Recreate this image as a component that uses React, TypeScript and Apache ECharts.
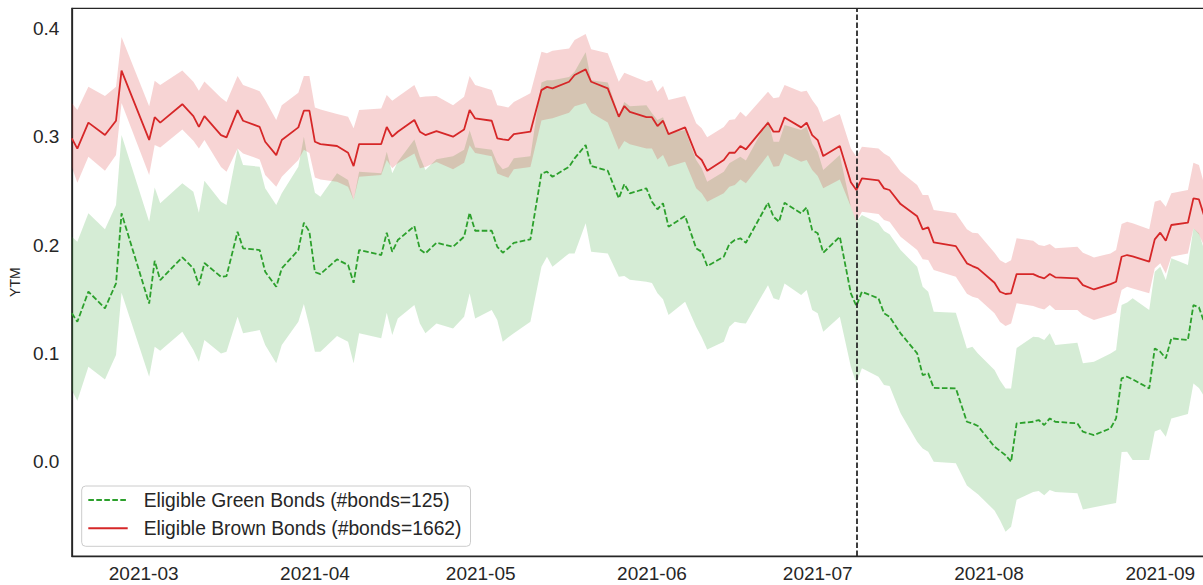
import React, { useEffect, useRef } from 'react';
import * as echarts from 'echarts';

const FONT = '"Liberation Sans", Arial, Helvetica, sans-serif';

// Trading dates (vertices)
const dates = [
  '2021-02-16','2021-02-17','2021-02-19','2021-02-22','2021-02-24','2021-02-25',
  '2021-03-02','2021-03-03','2021-03-04','2021-03-08','2021-03-10','2021-03-11','2021-03-12',
  '2021-03-15','2021-03-16','2021-03-18','2021-03-19','2021-03-22','2021-03-23','2021-03-25','2021-03-26',
  '2021-03-29','2021-03-30','2021-03-31','2021-04-01','2021-04-02','2021-04-05','2021-04-07','2021-04-08','2021-04-09',
  '2021-04-13','2021-04-14','2021-04-15','2021-04-16','2021-04-19','2021-04-20','2021-04-21','2021-04-23','2021-04-26',
  '2021-04-28','2021-04-29','2021-04-30','2021-05-03','2021-05-04','2021-05-05','2021-05-06','2021-05-07','2021-05-10',
  '2021-05-12','2021-05-13','2021-05-14','2021-05-17','2021-05-18','2021-05-20','2021-05-21','2021-05-24','2021-05-26',
  '2021-05-27','2021-05-28','2021-05-31','2021-06-01','2021-06-02','2021-06-03','2021-06-04','2021-06-07','2021-06-09',
  '2021-06-10','2021-06-11','2021-06-14','2021-06-15','2021-06-16','2021-06-17','2021-06-18','2021-06-22','2021-06-23',
  '2021-06-24','2021-06-25','2021-06-28','2021-06-29','2021-06-30','2021-07-01','2021-07-02','2021-07-05','2021-07-07',
  '2021-07-08','2021-07-09','2021-07-12','2021-07-13','2021-07-14','2021-07-16','2021-07-19','2021-07-20','2021-07-21',
  '2021-07-22','2021-07-26','2021-07-28','2021-07-29','2021-07-30','2021-08-02','2021-08-03','2021-08-04','2021-08-05',
  '2021-08-06','2021-08-09','2021-08-10','2021-08-11','2021-08-12','2021-08-13','2021-08-17','2021-08-18','2021-08-20',
  '2021-08-23','2021-08-24','2021-08-25','2021-08-26','2021-08-27','2021-08-30','2021-08-31','2021-09-01','2021-09-02',
  '2021-09-03','2021-09-06','2021-09-07','2021-09-08','2021-09-09',
];

const brownMean = [
  0.2985,0.289,0.313,0.3015,0.3147,0.361,
  0.297,0.318,0.313,0.330,0.319,0.309,0.319,
  0.3015,0.2994,0.3246,0.3147,0.309,0.2953,0.283,0.2969,
  0.3086,0.324,0.324,0.2953,0.2932,0.2914,0.2852,0.2729,0.2932,
  0.2932,0.309,0.300,0.3046,0.3154,0.3046,0.3015,0.3052,0.300,
  0.3067,0.3246,0.3169,0.3147,0.2985,0.2975,0.2969,0.3024,0.3046,
  0.343,0.346,0.3446,0.3507,0.3569,0.3621,0.3507,0.3446,0.3184,
  0.3283,0.323,0.318,0.318,0.3098,0.3147,0.3024,0.3086,0.283,
  0.2785,0.2686,0.2785,0.2852,0.2852,0.2914,0.2883,0.3129,0.3046,
  0.3046,0.3178,0.3086,0.3129,0.3015,0.2969,0.2821,0.2914,0.258,
  0.2508,0.2615,0.2597,0.2523,0.2508,0.2378,0.2265,0.2145,0.2163,
  0.2025,0.199,0.1831,0.1806,0.1785,0.1652,0.1569,0.1548,0.1554,
  0.1732,0.1732,0.1708,0.1692,0.1732,0.1702,0.1692,0.163,0.159,
  0.164,0.1661,0.1892,0.1908,0.1895,0.1846,0.2052,0.2114,0.204,
  0.2185,0.2206,0.2431,0.2421,0.226,
];

const brownHigh = [
  0.331,0.3246,0.346,0.3375,0.346,0.392,
  0.328,0.3516,0.3477,0.361,0.3507,0.3424,0.351,
  0.336,0.332,0.356,0.3477,0.342,0.3338,0.3154,0.329,
  0.3406,0.356,0.356,0.327,0.3252,0.3209,0.3184,0.3077,0.3246,
  0.3261,0.3384,0.3332,0.3369,0.3477,0.3363,0.337,0.3375,0.329,
  0.3369,0.356,0.3477,0.343,0.329,0.328,0.327,0.332,0.340,
  0.3784,0.3769,0.3793,0.3815,0.3892,0.3947,0.3806,0.3769,0.3507,
  0.359,0.3569,0.3507,0.3523,0.3415,0.3468,0.3338,0.3375,0.3123,
  0.3077,0.2994,0.309,0.3154,0.316,0.323,0.3184,0.3415,0.3354,
  0.3363,0.3477,0.3415,0.3424,0.3338,0.327,0.3138,0.3209,0.2892,
  0.2815,0.2907,0.2892,0.2846,0.2815,0.2677,0.2554,0.2462,0.2462,
  0.2323,0.2293,0.2145,0.2114,0.2108,0.1929,0.186,0.1831,0.186,
  0.2062,0.204,0.200,0.199,0.2009,0.197,0.1984,0.193,0.1886,
  0.1923,0.1954,0.2194,0.2215,0.220,0.2145,0.240,0.2415,0.2354,
  0.2477,0.2508,0.276,0.2738,0.255,
];

const brownLow = [
  0.272,0.2575,0.2815,0.2686,0.283,0.331,
  0.2646,0.2923,0.290,0.3067,0.2963,0.2892,0.2969,
  0.272,0.2677,0.2892,0.2846,0.279,0.2646,0.2538,0.263,
  0.2785,0.288,0.285,0.2624,0.2606,0.2585,0.2538,0.2415,0.263,
  0.2646,0.2785,0.2708,0.2754,0.2846,0.2708,0.272,0.2767,0.270,
  0.276,0.292,0.285,0.282,0.266,0.264,0.262,0.27,0.272,
  0.315,0.316,0.317,0.322,0.328,0.331,0.322,0.313,0.288,
  0.296,0.293,0.2892,0.2892,0.279,0.283,0.2723,0.2769,0.2523,
  0.2477,0.240,0.2477,0.2538,0.2554,0.2606,0.257,0.283,0.2723,
  0.2729,0.2846,0.2769,0.2785,0.2692,0.2637,0.2523,0.2606,0.2354,
  0.2215,0.2307,0.2286,0.2231,0.2215,0.2077,0.1954,0.1868,0.1862,
  0.1769,0.1707,0.155,0.1523,0.1508,0.137,0.129,0.1252,0.1277,
  0.1462,0.1437,0.142,0.1406,0.1446,0.14,0.14,0.1354,0.1308,
  0.1354,0.1375,0.1585,0.1615,0.160,0.1554,0.1785,0.1831,0.1738,
  0.1892,0.1923,0.2154,0.21,0.198,
];

const greenMean = [
  0.137,0.1292,0.157,0.1416,0.1646,0.2293,
  0.146,0.1855,0.1677,0.1886,0.1785,0.163,0.1834,
  0.1707,0.1714,0.2123,0.197,0.1954,0.1754,0.1615,0.1785,
  0.1954,0.2206,0.2123,0.175,0.1732,0.1868,0.1815,0.1652,0.1954,
  0.1908,0.2114,0.1938,0.2046,0.2175,0.196,0.1923,0.2021,0.1984,
  0.2077,0.2298,0.2132,0.2132,0.1984,0.1929,0.197,0.2021,0.2052,
  0.266,0.2677,0.263,0.2723,0.280,0.2923,0.2729,0.2686,0.2431,
  0.2563,0.2477,0.2523,0.24,0.233,0.2385,0.2169,0.2268,0.197,
  0.1938,0.1806,0.1892,0.2009,0.2046,0.2062,0.2021,0.239,0.2261,
  0.2215,0.239,0.2293,0.2348,0.2138,0.2108,0.1929,0.2077,0.1554,
  0.1437,0.1569,0.1508,0.137,0.1338,0.1185,0.10,0.08,0.0816,
  0.0681,0.0677,0.0369,0.0354,0.033,0.0138,0.010,0.006,0.0,
  0.0354,0.0369,0.0385,0.0339,0.040,0.0369,0.0354,0.0277,0.0246,
  0.0308,0.040,0.077,0.0785,0.076,0.0677,0.1046,0.1015,0.0954,
  0.1139,0.1123,0.1446,0.1425,0.128,
];

const greenHigh = [
  0.2077,0.203,0.2293,0.2145,0.237,0.3015,
  0.2215,0.2532,0.2385,0.257,0.2492,0.2298,0.2594,
  0.24,0.237,0.2892,0.2738,0.2723,0.2523,0.237,0.2477,
  0.2723,0.30,0.272,0.2483,0.2446,0.2662,0.26,0.2415,0.2677,
  0.2662,0.2861,0.2662,0.2769,0.2975,0.2815,0.2692,0.2791,0.282,
  0.288,0.306,0.29,0.288,0.276,0.27,0.272,0.28,0.282,
  0.35,0.352,0.352,0.355,0.36,0.378,0.352,0.35,0.32,
  0.332,0.328,0.329,0.3216,0.3154,0.318,0.3031,0.3061,0.2785,
  0.2708,0.2585,0.2677,0.2754,0.2785,0.2815,0.278,0.3154,0.2953,
  0.2953,0.3108,0.3061,0.3092,0.2938,0.2861,0.2692,0.283,0.2354,
  0.222,0.2277,0.22,0.213,0.21,0.1954,0.18,0.1615,0.157,
  0.1384,0.1375,0.1046,0.1062,0.10,0.0846,0.075,0.0677,0.0677,
  0.105,0.1154,0.115,0.1123,0.1185,0.1077,0.1099,0.0908,0.0923,
  0.10,0.1031,0.1446,0.147,0.1508,0.14,0.1754,0.18,0.1677,
  0.1877,0.1815,0.2154,0.2108,0.195,
];

const greenLow = [
  0.066,0.0563,0.0877,0.076,0.0985,0.156,
  0.0785,0.1062,0.1024,0.12,0.1031,0.0923,0.1123,
  0.10,0.1015,0.1338,0.1185,0.1215,0.1077,0.0908,0.1077,
  0.1292,0.1455,0.125,0.1015,0.1015,0.116,0.1108,0.0908,0.1185,
  0.1139,0.1375,0.1169,0.1323,0.1446,0.1277,0.1185,0.1277,0.123,
  0.1338,0.1554,0.1323,0.14,0.1308,0.1108,0.115,0.1185,0.1292,
  0.18,0.1892,0.18,0.1923,0.1923,0.22,0.1938,0.1923,0.1707,
  0.1714,0.168,0.1662,0.165,0.1554,0.150,0.1354,0.1477,0.1246,
  0.115,0.1037,0.1108,0.1246,0.1292,0.128,0.1277,0.163,0.1508,
  0.1492,0.1646,0.1538,0.1585,0.14,0.137,0.12,0.1338,0.0877,
  0.0724,0.0862,0.0785,0.0708,0.070,0.0447,0.0185,0.0123,0.0092,
  0.0,-0.0015,-0.022,-0.026,-0.03,-0.045,-0.054,-0.0646,-0.06,
  -0.035,-0.028,-0.027,-0.031,-0.026,-0.028,-0.029,-0.044,-0.042,
  -0.039,-0.038,0.009,0.0092,0.0015,0.0015,0.028,0.03,0.023,
  0.04,0.044,0.0723,0.068,0.06,
];

const monthTicks = ['2021-03','2021-04','2021-05','2021-06','2021-07','2021-08','2021-09'];
const eventDate = '2021-07-08';
const axisStart = '2021-02-16';
const axisEnd = '2021-09-10';
const yMin = -0.087;
const yMax = 0.4185;
const greenCount = 125;
const brownCount = 1662;
const yLabel = 'YTM';

const GREEN = '#2ca02c';
const RED = '#d62728';
const INK = '#262626';

const toTime = (s: string) => {
  const [y, m, d] = s.split('-').map(Number);
  return new Date(y, m - 1, d || 1).getTime();
};

export default function App() {
  const ref = useRef<HTMLDivElement>(null);

  useEffect(() => {
    if (!ref.current) return;
    const chart = echarts.init(ref.current, null, { renderer: 'svg' });
    const xs = dates.map(toTime);
    const tickTimes = monthTicks.map(toTime);
    const greenName = `Eligible Green Bonds (#bonds=${greenCount})`;
    const brownName = `Eligible Brown Bonds (#bonds=${brownCount})`;

    const pts = (arr: number[]) => xs.map((x, i) => [x, arr[i]]);

    // Confidence band drawn as one polygon through the axis scales
    const band = (lo: number[], hi: number[], fill: string) => ({
      type: 'custom',
      silent: true,
      clip: true,
      z: 1,
      encode: { x: 0, y: [1, 2] },
      data: xs.map((x, i) => [x, lo[i], hi[i]]),
      renderItem: (params: any, api: any) => {
        if (params.dataIndex !== 0) return null;
        const upper = xs.map((x, i) => api.coord([x, hi[i]]));
        const lower = xs.map((x, i) => api.coord([x, lo[i]])).reverse();
        return {
          type: 'polygon',
          shape: { points: upper.concat(lower) },
          style: { fill, stroke: 'none' },
        };
      },
    });

    chart.setOption({
      animation: false,
      backgroundColor: '#ffffff',
      textStyle: { fontFamily: FONT },
      grid: {
        left: 71.5,
        top: 8.3,
        width: 1138.5,
        height: 547.7,
        show: true,
        borderColor: INK,
        borderWidth: 1.25,
        backgroundColor: 'transparent',
      },
      xAxis: {
        type: 'value',
        min: toTime(axisStart),
        max: toTime(axisEnd),
        axisLine: { show: true, onZero: false, lineStyle: { color: INK, width: 1.25 } },
        axisTick: { show: false },
        splitLine: { show: false },
        axisLabel: {
          customValues: tickTimes,
          fontSize: 19,
          color: INK,
          fontFamily: FONT,
          margin: 8,
          formatter: (v: number) => {
            const i = tickTimes.findIndex((t) => Math.abs(t - v) < 43200000);
            return i >= 0 ? monthTicks[i] : '';
          },
        },
      },
      yAxis: {
        type: 'value',
        min: yMin,
        max: yMax,
        name: yLabel,
        nameLocation: 'middle',
        nameRotate: 90,
        nameGap: 43,
        nameTextStyle: { fontSize: 14, color: INK, fontFamily: FONT },
        axisLine: { show: true, onZero: false, lineStyle: { color: INK, width: 1.25 } },
        axisTick: { show: false },
        splitLine: { show: false },
        axisLabel: {
          showMinLabel: false,
          showMaxLabel: false,
          fontSize: 19,
          color: INK,
          fontFamily: FONT,
          margin: 12.5,
          formatter: (v: number) => (Math.abs(v) < 1e-9 ? '0.0' : v.toFixed(1)),
        },
      },
      legend: {
        data: [greenName, brownName],
        orient: 'vertical',
        left: 81.7,
        top: 486,
        itemWidth: 39.4,
        itemHeight: 14,
        itemGap: 6.3,
        padding: [3, 9, 7, 5.6],
        backgroundColor: 'rgba(255,255,255,0.8)',
        borderColor: '#cccccc',
        borderWidth: 1,
        borderRadius: 4,
        selectedMode: false,
        itemStyle: { opacity: 0 },
        textStyle: {
          fontSize: 19.3,
          color: INK,
          fontFamily: FONT,
          lineHeight: 22,
          padding: [0, 0, 0, 11],
        },
      },
      series: [
        band(greenLow, greenHigh, 'rgba(44,160,44,0.2)'),
        band(brownLow, brownHigh, 'rgba(214,39,40,0.2)'),
        {
          name: greenName,
          type: 'line',
          data: pts(greenMean),
          symbol: 'none',
          color: GREEN,
          lineStyle: { color: GREEN, width: 1.8, type: [5.6, 2.4] },
          z: 3,
        },
        {
          name: brownName,
          type: 'line',
          data: pts(brownMean),
          symbol: 'none',
          color: RED,
          lineStyle: { color: RED, width: 1.8 },
          z: 3,
          markLine: {
            silent: true,
            symbol: ['none', 'none'],
            label: { show: false },
            lineStyle: { color: '#2a2a2a', width: 1.8, type: [5.6, 2.4] },
            data: [{ xAxis: toTime(eventDate) }],
          },
        },
      ],
    });

    return () => chart.dispose();
  }, []);

  return (
    <div
      style={{
        position: 'fixed',
        left: 0,
        top: 0,
        width: 1203,
        height: 585,
        overflow: 'hidden',
        background: '#ffffff',
      }}
    >
      <div ref={ref} style={{ width: 1240, height: 585 }} />
    </div>
  );
}
